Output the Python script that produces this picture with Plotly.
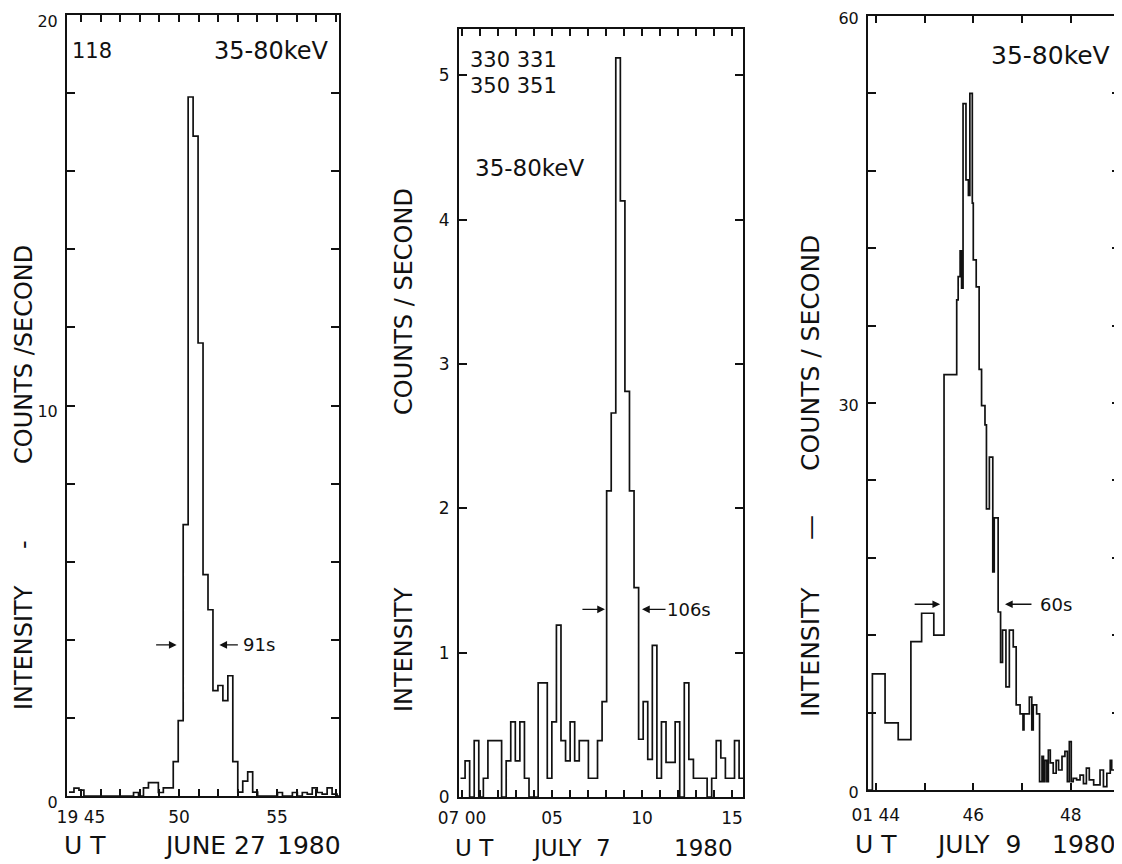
import plotly.graph_objects as go

# The page places the figure 8 px from the top-left corner of the window.
OFF = 8
W, H = 1122 - OFF, 864 - OFF

# ---------------- data ----------------
# Panel 1 : 1980 June 27, UT minutes after 19:00, 35-80 keV counts/s (bins ~15 s)
p1_t0 = 44.393
p1_dt = 0.2531
p1_counts = [0.10, 0.20, 0.15, 0, 0, 0, 0, 0, 0, 0, 0, 0, 0,
             0.09, 0, 0.21, 0.34, 0.34, 0.09, 0.21, 0.21, 0.88, 1.93, 6.95,
             17.9, 16.9, 11.6, 5.67, 4.77, 2.70, 2.83, 2.44, 3.08, 0.88, 0.10,
             0.38, 0.62, 0.10, 0, 0, 0, 0,
             0.09, 0, 0, 0.09, 0, 0.09, 0.05, 0.21, 0.09, 0.05, 0.21, 0.05, 0]
p1_xticks = [45, 46, 47, 48, 49, 50, 51, 52, 53, 54, 55, 56, 57, 58]
p1_xlabels = ["19 45", "", "", "", "", "50", "", "", "", "", "55", "", "", ""]
p1_yticks = [0, 2, 4, 6, 8, 10, 12, 14, 16, 18, 20]
p1_ylabels = ["0", "", "", "", "", "10", "", "", "", "", "20"]

# Panel 2 : 1980 July 7, UT minutes after 07:00
p2_t0 = -0.083
p2_dt = 0.2537
p2_counts = [0.13, 0.25, 0, 0.39, 0, 0.13, 0.39, 0.39, 0.39, 0, 0.25, 0.52,
             0.25, 0.52, 0.13, 0, 0, 0.79, 0.79, 0.13, 0.52, 1.19, 0.39, 0.25,
             0.52, 0.25, 0.39, 0.39, 0.13, 0.13, 0.39, 0.66, 2.12, 2.66, 5.12,
             4.13, 2.81, 2.12, 1.45, 0.40, 0.66, 0.26, 1.05, 0.13, 0.52, 0.24,
             0.24, 0.52, 0, 0.79, 0.26, 0.13, 0.13, 0.13, 0, 0.13, 0.39, 0.27,
             0.13, 0.13, 0.39, 0.13]
p2_xticks = list(range(0, 16))
p2_xlabels = ["07 00", "", "", "", "", "05", "", "", "", "", "10", "", "", "", "", "15"]
p2_yticks = [0, 1, 2, 3, 4, 5]
p2_ylabels = ["0", "1", "2", "3", "4", "5"]

# Panel 3 : 1980 July 9, UT minutes after 01:00 (bin start times)
p3_edges = [43.84, 43.93, 44.19, 44.46, 44.72, 44.94, 45.19, 45.40,
            45.66, 45.69, 45.73, 45.76, 45.79, 45.85, 45.90, 45.93, 45.98, 46.00,
            46.06, 46.12, 46.17, 46.24, 46.27, 46.33, 46.40, 46.43, 46.51, 46.56,
            46.60, 46.67, 46.74, 46.82, 46.88, 46.96, 47.02, 47.04, 47.15, 47.20,
            47.23, 47.30, 47.36, 47.41, 47.44, 47.47, 47.51, 47.54, 47.58, 47.64,
            47.70, 47.75, 47.82, 47.88, 47.93, 47.97, 48.01, 48.05, 48.12, 48.19,
            48.26, 48.32, 48.38, 48.47, 48.54, 48.60, 48.67, 48.74, 48.81, 48.84,
            48.91, 48.98]
p3_end = 49.05
p3_counts = [0, 9.0, 5.2, 3.9, 11.5, 13.7, 12.0, 32.2,
             38.0, 39.8, 41.8, 38.9, 53.2, 47.3, 46.1, 54.0, 45.5, 41.1,
             39.0, 32.6, 29.8, 28.3, 21.8, 25.8, 16.9, 21.1, 13.8, 9.9,
             12.4, 8.0, 12.4, 11.1, 6.6, 5.9, 4.65, 5.9, 7.2, 4.65,
             6.6, 5.9, 0.65, 2.6, 0.65, 2.3, 0.65, 3.1, 2.1, 1.3,
             2.3, 1.55, 2.6, 3.0, 0.65, 3.75, 0.65, 0.9, 0.78, 1.16,
             0.5, 1.7, 0.78, 0.4, 0.4, 1.55, 0.26, 1.3, 2.3, 1.55,
             1.0, 0.5]
p3_xticks = [44, 45, 46, 47, 48, 49]
p3_xlabels = ["01 44", "", "46", "", "48", ""]
p3_yticks = [0, 6, 12, 18, 24, 30, 36, 42, 48, 54, 60]
p3_ylabels = ["0", "", "", "", "", "30", "", "", "", "", "60"]


# ---------------- helpers ----------------
def steps(starts, vals, end):
    return list(starts) + [end], list(vals) + [vals[-1]]


def px(x):
    return (x - OFF) / W


def py(y):
    return 1 - (y - OFF) / H


FONT = "DejaVu Sans"
BLACK = "#111111"

p1_starts = [p1_t0 + i * p1_dt for i in range(len(p1_counts))]
p2_starts = [p2_t0 + i * p2_dt for i in range(len(p2_counts))]

x1, y1 = steps(p1_starts, p1_counts, p1_t0 + len(p1_counts) * p1_dt)
x2, y2 = steps(p2_starts, p2_counts, p2_t0 + len(p2_counts) * p2_dt)
x3, y3 = steps(p3_edges, p3_counts, p3_end)

fig = go.Figure()
line = dict(color=BLACK, width=1.7, shape="hv")
fig.add_trace(go.Scatter(x=x1, y=y1, mode="lines", line=line, xaxis="x", yaxis="y",
                         showlegend=False, hoverinfo="skip"))
fig.add_trace(go.Scatter(x=x2, y=y2, mode="lines", line=line, xaxis="x2", yaxis="y2",
                         showlegend=False, hoverinfo="skip"))
fig.add_trace(go.Scatter(x=x3, y=y3, mode="lines", line=line, xaxis="x3", yaxis="y3",
                         showlegend=False, hoverinfo="skip"))


def xax(domain, rng, tv, tt, anchor, fs, standoff=5):
    return dict(domain=domain, range=rng, anchor=anchor, showline=True, linewidth=2,
                linecolor=BLACK, mirror="ticks", ticks="inside", ticklen=7, tickwidth=1.5,
                tickcolor=BLACK, tickmode="array", tickvals=tv, ticktext=tt,
                showgrid=False, zeroline=False, tickangle=0, ticklabelstandoff=standoff,
                automargin=False, ticklabeloverflow="allow",
                tickfont=dict(family=FONT, size=fs, color=BLACK))


def yax(domain, rng, tv, tt, anchor, fs, shift=0):
    return dict(domain=domain, range=rng, anchor=anchor, showline=True, linewidth=2,
                linecolor=BLACK, mirror="ticks", ticks="inside", ticklen=8, tickwidth=1.5,
                tickcolor=BLACK, tickmode="array", tickvals=tv, ticktext=tt,
                showgrid=False, zeroline=False, ticklabelstandoff=4, ticklabelshift=shift,
                automargin=False, ticklabeloverflow="allow",
                tickfont=dict(family=FONT, size=fs, color=BLACK))


ann = []


def text(x, y, s, size, angle=0, xanchor="center"):
    ann.append(dict(x=px(x), y=py(y), xref="paper", yref="paper", text=s, showarrow=False,
                    textangle=angle, xanchor=xanchor, yanchor="middle",
                    font=dict(family=FONT, size=size, color=BLACK)))


def arrow(xr, yr, x, y, ax):
    ann.append(dict(x=x, y=y, xref=xr, yref=yr, ax=ax, ay=0, text="", showarrow=True,
                    arrowhead=2, arrowsize=1.1, arrowwidth=1.4, arrowcolor=BLACK))


def label(xr, yr, x, y, s, size):
    ann.append(dict(x=x, y=y, xref=xr, yref=yr, text=s, showarrow=False,
                    xanchor="center", yanchor="middle",
                    font=dict(family=FONT, size=size, color=BLACK)))


# panel 1 texts
text(92, 51, "118", 21)
text(271, 51, "35-80keV", 24)
text(85, 845, "U T", 25)
text(215, 845, "JUNE 27", 25)
text(309, 845, "1980", 25)
text(24, 648, "INTENSITY", 24, -90)
text(24, 545, "-", 24, -90)
text(24, 355, "COUNTS /SECOND", 24, -90)
arrow("x", "y", 49.88, 3.87, -22)
arrow("x", "y", 52.06, 3.87, 20)
label("x", "y", 54.08, 3.87, "91s", 18)

# panel 2 texts
text(513, 60, "330 331", 21)
text(513, 86, "350 351", 21)
text(529, 168, "35-80keV", 23)
text(474, 848, "U T", 23)
text(572, 848, "JULY  7", 23)
text(703, 848, "1980", 23)
text(404, 302, "COUNTS / SECOND", 24, -90)
text(404, 650, "INTENSITY", 24, -90)
arrow("x2", "y2", 7.94, 1.30, -24)
arrow("x2", "y2", 10.0, 1.30, 25)
label("x2", "y2", 12.61, 1.30, "106s", 18)

# panel 3 texts
text(1112, 55, "35-80keV", 25, xanchor="right")
text(876, 844, "U T", 25)
text(978, 844, "JULY  9", 25)
text(1084, 844, "1980", 25)
text(810, 652, "INTENSITY", 25, -90)
text(810, 528, "—", 25, -90)
text(810, 353, "COUNTS / SECOND", 25, -90)
arrow("x3", "y3", 45.32, 14.4, -27)
arrow("x3", "y3", 46.65, 14.4, 28)
label("x3", "y3", 47.70, 14.4, "60s", 18)

fig.update_layout(
    width=W, height=H,
    margin=dict(l=0, r=0, t=0, b=0, pad=0, autoexpand=False),
    paper_bgcolor="white", plot_bgcolor="white",
    showlegend=False,
    xaxis=xax([px(67), px(339)], [44.29, 58.16], p1_xticks, p1_xlabels, "y", 17),
    yaxis=yax([py(796), py(15)], [0, 20], p1_yticks, p1_ylabels, "x", 16, 6),
    xaxis2=xax([px(459), px(743)], [-0.167, 15.61], p2_xticks, p2_xlabels, "y2", 17),
    yaxis2=yax([py(797), py(29)], [0, 5.32], p2_yticks, p2_ylabels, "x2", 17),
    xaxis3=xax([px(868), px(1120)], [43.84, 49.01], p3_xticks, p3_xlabels, "y3", 17, 9),
    yaxis3=yax([py(790), py(16)], [0, 60], p3_yticks, p3_ylabels, "x3", 16, 2),
    annotations=ann,
)

fig.write_html("out.html")
